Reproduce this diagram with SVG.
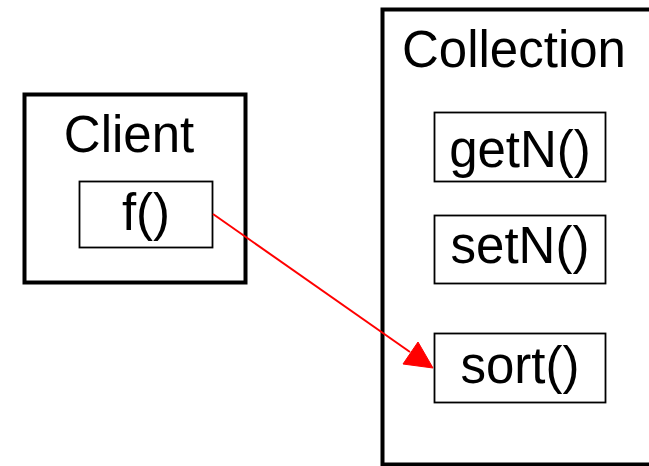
<svg xmlns="http://www.w3.org/2000/svg" width="649" height="466" viewBox="0 0 649 466">
<style>
text{font-family:"Liberation Sans",Arial,sans-serif;font-size:51px;fill:#000;text-anchor:middle}
.cl{fill:#fff;stroke:#000;stroke-width:4}
.nd{fill:#fff;stroke:#000;stroke-width:1.8}
.ed{fill:none;stroke:#f00;stroke-width:2}
</style>
<rect width="649" height="466" fill="#fff"/>
<g id="client">
<rect class="cl" x="24.5" y="94.5" width="221" height="188"/>
<text x="129" y="152">Client</text>
</g>
<g id="collection">
<rect class="cl" x="382.5" y="9.5" width="300" height="455"/>
<text x="514" y="67">Collection</text>
</g>
<g id="f">
<rect class="nd" x="79.5" y="181.5" width="133" height="66"/>
<text x="146" y="230">f()</text>
</g>
<g id="getN">
<rect class="nd" x="434.5" y="112.5" width="171" height="69"/>
<text x="520" y="167">getN()</text>
</g>
<g id="setN">
<rect class="nd" x="434.5" y="215.5" width="171" height="68"/>
<text x="520" y="263">setN()</text>
</g>
<g id="sort">
<rect class="nd" x="434.5" y="333.5" width="171" height="69"/>
<text x="520" y="383">sort()</text>
</g>
<g id="connectors">
<line class="ed" x1="213" y1="214" x2="410" y2="352"/>
<path d="M433,368 L403,364 L418,342 Z" fill="#f00" stroke="#f00" stroke-width="1"/>
</g>
</svg>
